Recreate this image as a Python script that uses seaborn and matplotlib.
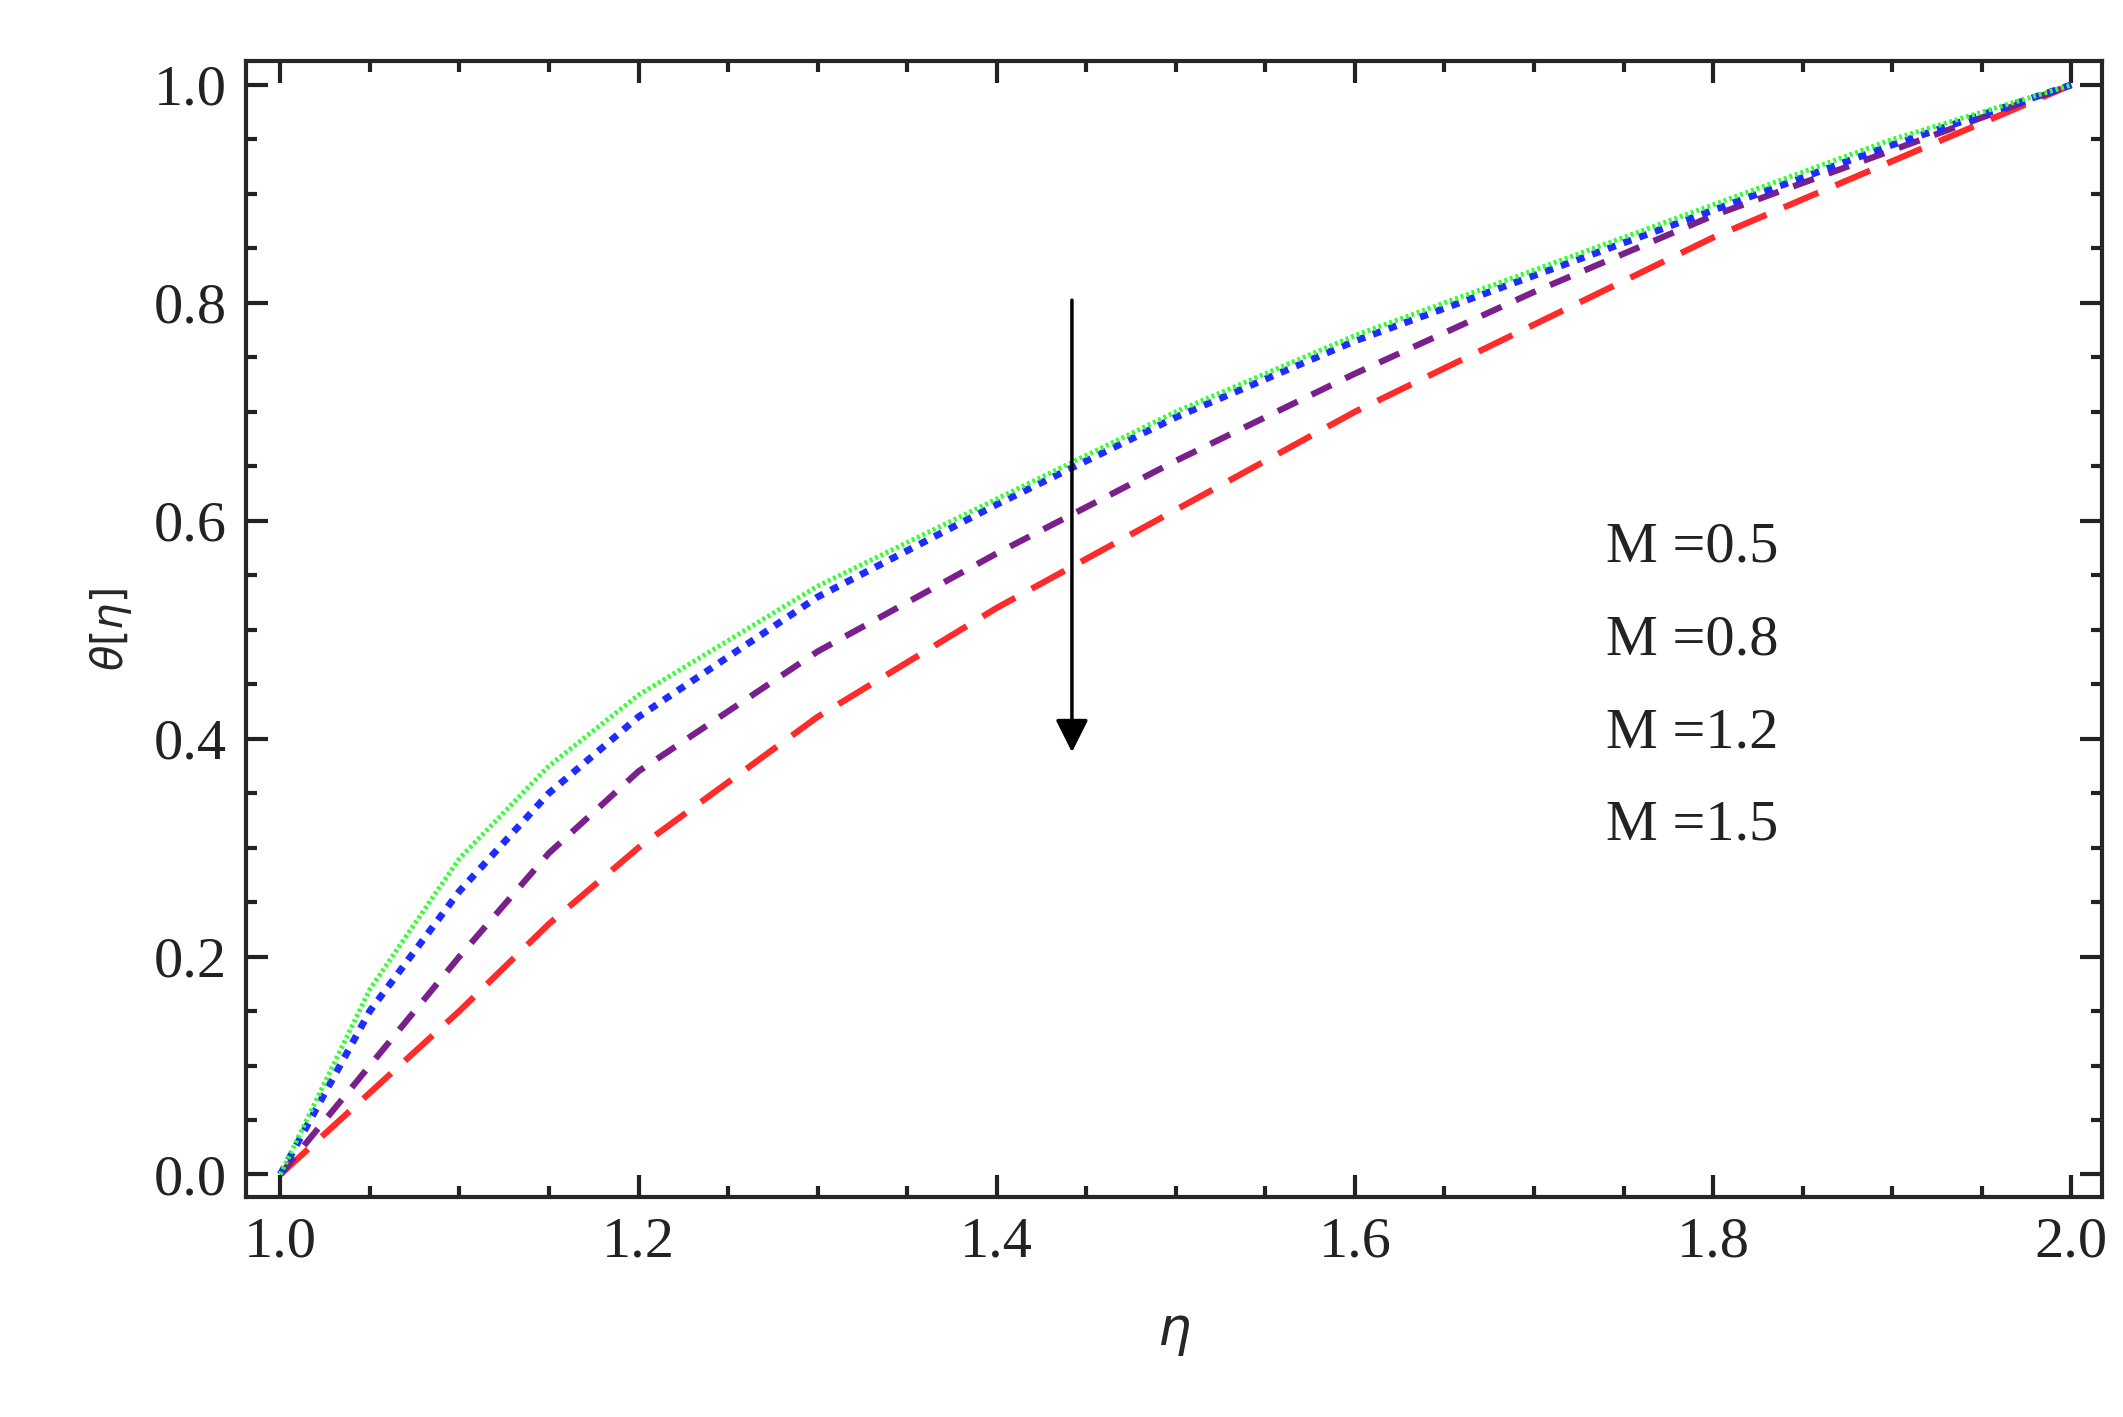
import matplotlib
matplotlib.use("Agg")
import matplotlib.pyplot as plt
import seaborn as sns
import numpy as np
import pandas as pd

eta = [1.0, 1.05, 1.1, 1.15, 1.2, 1.3, 1.4, 1.5, 1.6, 1.7, 1.8, 1.9, 2.0]
theta_05 = [0.0, 0.17, 0.29, 0.375, 0.44, 0.54, 0.62, 0.70, 0.77, 0.83, 0.89, 0.95, 1.0]
theta_08 = [0.0, 0.15, 0.26, 0.35, 0.42, 0.53, 0.615, 0.695, 0.765, 0.825, 0.885, 0.945, 1.0]
theta_12 = [0.0, 0.10, 0.20, 0.295, 0.37, 0.48, 0.57, 0.655, 0.735, 0.81, 0.88, 0.94, 1.0]
theta_15 = [0.0, 0.075, 0.15, 0.23, 0.30, 0.42, 0.52, 0.61, 0.70, 0.78, 0.86, 0.93, 1.0]
labels = ["M =0.5", "M =0.8", "M =1.2", "M =1.5"]

sns.set_style("ticks")
plt.rcParams['font.family'] = ['Liberation Serif', 'DejaVu Serif']
fig = plt.figure(figsize=(21.23, 14.17), dpi=100)
ax = fig.add_axes([0.116, 0.155, 0.874, 0.802])

series = [(theta_15, "#ff2a2a", (0, (6, 3)), 4.5),
          (theta_12, "#7a1f8c", (0, (3.5, 2.5)), 4.5),
          (theta_08, "#1f2cff", (0, (1.2, 1.2)), 5),
          (theta_05, "#33ff33", (0, (0.6, 0.6)), 3.5)]
for vals, c, ls, lw in series:
    df = pd.DataFrame({"eta": eta, "theta": vals})
    sns.lineplot(data=df, x="eta", y="theta", color=c, linestyle=ls, lw=lw, ax=ax)

ax.set_xlim(0.981, 2.017)
ax.set_ylim(-0.021, 1.022)
ax.set_xticks([1.0, 1.2, 1.4, 1.6, 1.8, 2.0])
ax.set_yticks([0.0, 0.2, 0.4, 0.6, 0.8, 1.0])
ax.set_xticklabels(["1.0", "1.2", "1.4", "1.6", "1.8", "2.0"])
ax.set_yticklabels(["0.0", "0.2", "0.4", "0.6", "0.8", "1.0"])
ax.minorticks_on()
ax.tick_params(which='both', direction='in', top=True, right=True, labelsize=42, colors='#222222', width=3)
ax.tick_params(which='major', length=16, pad=14)
ax.tick_params(which='minor', length=8)
for s in ax.spines.values():
    s.set_linewidth(3)
ax.set_xlabel(r"$\eta$", fontsize=38, labelpad=30)
ax.set_ylabel(r"$\theta[\eta]$", fontsize=30, labelpad=14)

ax.annotate("", xy=(1.442, 0.385), xytext=(1.442, 0.805),
            arrowprops=dict(arrowstyle="-|>", color="black", lw=2.5, mutation_scale=50))
for i, t in enumerate(labels):
    ax.text(1.74, 0.575 - i * 0.085, t, fontsize=42, color='#222222', va='center')

fig.savefig("out.png", dpi=100)
